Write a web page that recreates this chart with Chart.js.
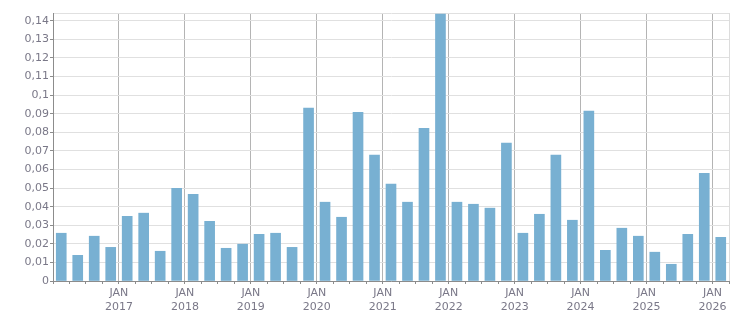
<!DOCTYPE html>
<html>
<head>
<meta charset="utf-8">
<script src="https://cdn.jsdelivr.net/npm/chart.js@4"></script>
<style>
  html, body { margin: 0; padding: 0; background: #fff; }
  #wrap { width: 751px; height: 313px; }
</style>
</head>
<body>
<div id="wrap"><canvas id="chart"></canvas></div>
<script>
// quarters from Q1 2016 to Q1 2026
const quarters = [
  '2016-Q1','2016-Q2','2016-Q3','2016-Q4',
  '2017-Q1','2017-Q2','2017-Q3','2017-Q4',
  '2018-Q1','2018-Q2','2018-Q3','2018-Q4',
  '2019-Q1','2019-Q2','2019-Q3','2019-Q4',
  '2020-Q1','2020-Q2','2020-Q3','2020-Q4',
  '2021-Q1','2021-Q2','2021-Q3','2021-Q4',
  '2022-Q1','2022-Q2','2022-Q3','2022-Q4',
  '2023-Q1','2023-Q2','2023-Q3','2023-Q4',
  '2024-Q1','2024-Q2','2024-Q3','2024-Q4',
  '2025-Q1','2025-Q2','2025-Q3','2025-Q4',
  '2026-Q1'
];
const values = [
  0.0257, 0.0138, 0.0241, 0.0181,
  0.0348, 0.0365, 0.0160, 0.0499,
  0.0467, 0.0321, 0.0176, 0.0198,
  0.0251, 0.0257, 0.0181, 0.0930,
  0.0424, 0.0343, 0.0908, 0.0677,
  0.0521, 0.0424, 0.0822, 0.1436,
  0.0424, 0.0413, 0.0392, 0.0742,
  0.0257, 0.0359, 0.0677, 0.0327,
  0.0914, 0.0165, 0.0284, 0.0241,
  0.0155, 0.0090, 0.0251, 0.0580,
  0.0235
];
const firstYear = 2016;
const yearLabel = 'JAN';

const textColor = '#7a7888';
const axisColor = '#8c8c8c';

const points = quarters.map((q, i) => ({ x: i + 0.5, y: values[i] }));

new Chart(document.getElementById('chart'), {
  type: 'bar',
  data: {
    datasets: [{
      data: points,
      backgroundColor: '#78b0d2',
      borderWidth: 0,
      barThickness: 10
    }]
  },
  options: {
    responsive: true,
    maintainAspectRatio: false,
    animation: false,
    layout: { padding: { top: 13, right: 22, left: 0, bottom: 0 } },
    plugins: {
      legend: { display: false },
      tooltip: { enabled: false }
    },
    scales: {
      x: {
        type: 'linear',
        min: 0,
        max: quarters.length,
        offset: false,
        afterBuildTicks: (scale) => {
          scale.ticks = quarters.map((q, i) => ({ value: i })).concat([{ value: quarters.length }]);
        },
        afterFit: (scale) => { scale.height = 32; },
        ticks: {
          autoSkip: false,
          maxRotation: 0,
          padding: 3,
          color: textColor,
          font: { family: 'DejaVu Sans', size: 11 },
          callback: (v) => {
            if (v > 0 && v < quarters.length && v % 4 === 0) return [yearLabel, String(firstYear + v / 4)];
            return '';
          }
        },
        grid: {
          offset: false,
          tickLength: 3,
          color: (ctx) => {
            const v = ctx.tick ? ctx.tick.value : 0;
            if (v === quarters.length) return '#dcdcdc';
            if (v > 0 && v % 4 === 0) return '#b4b4b4';
            return 'rgba(0,0,0,0)';
          },
          tickColor: axisColor
        },
        border: { color: axisColor, width: 1 }
      },
      y: {
        min: 0,
        max: 0.1442,
        afterBuildTicks: (scale) => {
          const t = [];
          for (let i = 0; i <= 14; i++) t.push({ value: i / 100 });
          t.push({ value: 0.1442 });
          scale.ticks = t;
        },
        afterFit: (scale) => { scale.width = 53; },
        ticks: {
          padding: 1,
          color: textColor,
          font: { family: 'DejaVu Sans', size: 11 },
          callback: (v) => {
            if (v > 0.1405) return '';
            return String(Math.round(v * 100) / 100).replace('.', ',');
          }
        },
        grid: {
          tickLength: 3,
          color: '#e0e0e0',
          tickColor: (ctx) => (ctx.tick && ctx.tick.value > 0.1405) ? 'rgba(0,0,0,0)' : axisColor
        },
        border: { color: axisColor, width: 1 }
      }
    }
  }
});
</script>
</body>
</html>
